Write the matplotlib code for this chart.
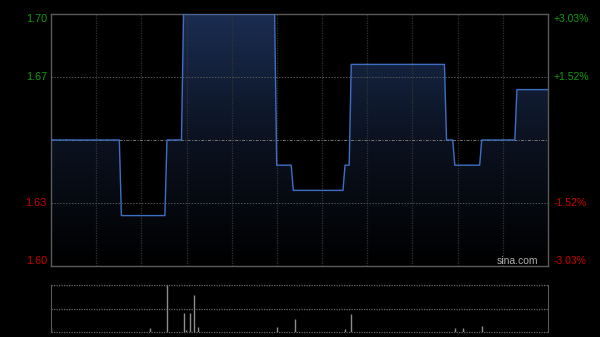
import numpy as np
import matplotlib
matplotlib.use('Agg')
import matplotlib.pyplot as plt
from matplotlib.colors import LinearSegmentedColormap

# intraday price, as steps (price, number of minutes)
seg_price = [1.65, 1.62, 1.65, 1.70, 1.64, 1.63, 1.64, 1.68, 1.65, 1.64, 1.65, 1.67]
seg_len = [34, 22, 8, 45, 8, 25, 3, 46, 4, 13, 17, 16]
prev_close = 1.65

# volume spikes (minute index, lots)
vol_minute = [0, 48, 56, 64, 65, 67, 69, 71, 109, 118, 142, 145, 195, 199, 208]
vol_value = [400, 400, 4700, 1900, 200, 1900, 3700, 500, 500, 1300, 300, 1800, 400, 400, 600]

price_ticks = [1.70, 1.675, 1.625, 1.60]
price_labels = ['1.70', '1.67', '1.63', '1.60']
pct_labels = ['+3.03%', '+1.52%', '-1.52%', '-3.03%']

prices = np.repeat(seg_price, seg_len)
minutes = np.arange(len(prices))
ymin, ymax = 1.60, 1.70

plt.rcParams['font.family'] = ['Liberation Sans', 'DejaVu Sans']
fig = plt.figure(figsize=(6, 3.37), dpi=100, facecolor='black')
ax = fig.add_axes([0.085, 0.2107, 0.8283, 0.7478], facecolor='black')
axv = fig.add_axes([0.085, 0.0148, 0.8283, 0.1395], facecolor='black')

# gradient fill under the line
cmap = LinearSegmentedColormap.from_list('fill', ['#000000', '#0b1220', '#1a2d52'])
grad = np.linspace(0, 1, 256).reshape(-1, 1)
im = ax.imshow(grad, extent=[0, 240, ymin, ymax], origin='lower', aspect='auto',
               cmap=cmap, zorder=1)
poly = ax.fill_between(minutes, prices, ymin, color='none', lw=0)
im.set_clip_path(poly.get_paths()[0], transform=ax.transData)
ax.plot(minutes, prices, color='#3f6fc4', lw=1.0, zorder=3)

ax.set_xlim(0, 240)
ax.set_ylim(ymin, ymax)

for i in range(1, 11):
    ax.axvline(i * 240 / 11, color='#333333', lw=0.9, ls=(0, (1, 1)), zorder=2)
for t in price_ticks[1:3]:
    ax.axhline(t, color='#555555', lw=0.7, ls=(0, (1.5, 1.5)), zorder=2)
ax.axhline(prev_close, color='#777777', lw=0.7, ls=(0, (3, 1.5, 1, 1.5)), zorder=2)

ax.set_xticks([])
ax.set_yticks([])
for s in ax.spines.values():
    s.set_color('#5a5a5a')
    s.set_linewidth(1.0)

colors = ['#0f9a0f', '#0f9a0f', '#cc0000', '#cc0000']
valign = ['top', 'center', 'center', 'bottom']
for t, pl, cl, c, va in zip(price_ticks, price_labels, pct_labels, colors, valign):
    ax.annotate(pl, (0, t), xycoords=('axes fraction', 'data'), xytext=(-3, 0),
                textcoords='offset points', ha='right', va=va, color=c, fontsize=7.8)
    ax.annotate(cl, (1, t), xycoords=('axes fraction', 'data'), xytext=(4, 0),
                textcoords='offset points', ha='left', va=va, color=c, fontsize=7.5)

ax.text(0.981, 0.0, 'sina.com', transform=ax.transAxes, ha='right', va='bottom',
        color='#b0b0b0', fontsize=7.5, zorder=4)

# volume panel
vmax = max(vol_value)
axv.vlines(vol_minute, 0, vol_value, color='#8c8c8c', lw=1.0)
axv.set_xlim(0, 240)
axv.set_ylim(0, vmax)
for f in [0, 0.5, 1]:
    axv.axhline(vmax * f, color='#6a6a6a', lw=0.9, ls=(0, (1, 1)), zorder=0,
                clip_on=False)
axv.set_xticks([])
axv.set_yticks([])
axv.spines['top'].set_visible(False)
axv.spines['bottom'].set_visible(False)
axv.spines['left'].set_color('#5a5a5a')
axv.spines['right'].set_color('#5a5a5a')

fig.savefig('out.png', dpi=100, facecolor='black')
